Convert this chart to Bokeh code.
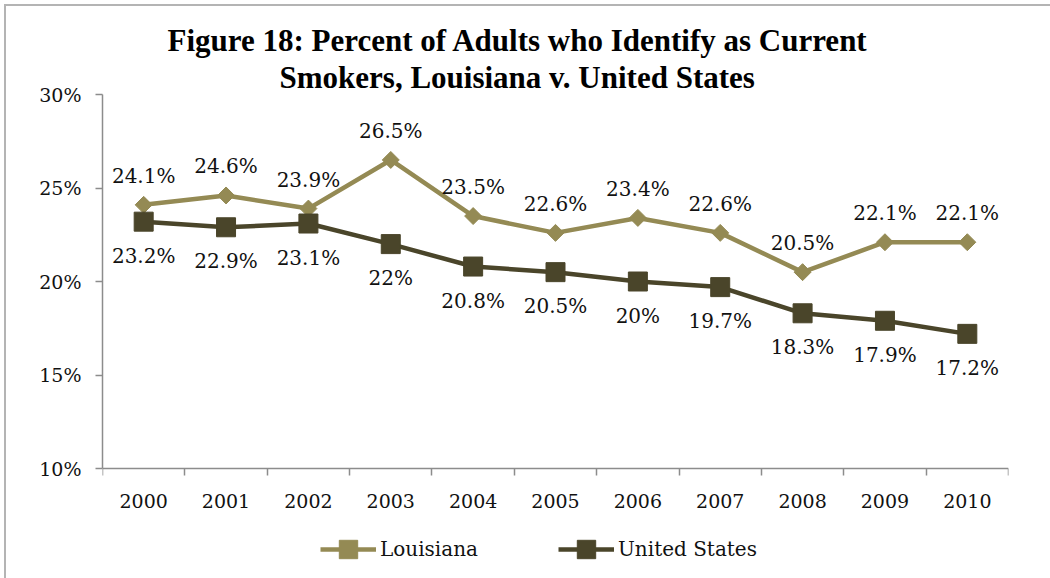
import math
from bokeh.plotting import figure
from bokeh.models import (ColumnDataSource, LabelSet, Title, FixedTicker, Legend, LegendItem,
                          Range1d, CustomJSTickFormatter)
from bokeh.core.properties import value
from bokeh.embed import file_html
from bokeh.resources import INLINE

years = [2000, 2001, 2002, 2003, 2004, 2005, 2006, 2007, 2008, 2009, 2010]
louisiana = [24.1, 24.6, 23.9, 26.5, 23.5, 22.6, 23.4, 22.6, 20.5, 22.1, 22.1]
united_states = [23.2, 22.9, 23.1, 22.0, 20.8, 20.5, 20.0, 19.7, 18.3, 17.9, 17.2]
y_ticks = [10, 15, 20, 25, 30]
title_lines = ["Figure 18: Percent of  Adults who Identify as Current",
               "Smokers, Louisiana v. United States"]

LA_COLOR = "#948A54"
US_COLOR = "#4A452A"
AXIS_COLOR = "#8C8C8C"
TITLE_FONT = "Liberation Serif"
FONT = "DejaVu Serif"
TXT = "#111111"

def fmt(v):
    return "{:g}%".format(v)

src_la = ColumnDataSource(dict(x=years, y=louisiana, t=[fmt(v) for v in louisiana]))
src_us = ColumnDataSource(dict(x=years, y=united_states, t=[fmt(v) for v in united_states]))

# plot frame runs down to the bottom of the window; the value axis spans 10%..30%
FW, AXIS_H, FH = 906, 374, 484
y_lo = y_ticks[0] - (FH - AXIS_H) * (y_ticks[-1] - y_ticks[0]) / AXIS_H

p = figure(output_backend="svg", toolbar_location=None,
           x_range=Range1d(years[0] - 0.5, years[-1] + 0.5),
           y_range=Range1d(y_lo, y_ticks[-1]),
           min_border_left=96, min_border_right=42, min_border_top=88, min_border_bottom=0,
           frame_width=FW, frame_height=FH)
p.margin = (4, 0, 0, 4)
p.styles = {"border-left": "2px solid #B4B4B4", "border-top": "2px solid #B4B4B4"}
p.title = None

p.outline_line_color = None
p.xgrid.visible = False
p.ygrid.visible = False
p.background_fill_color = "white"
p.border_fill_color = "white"

p.xaxis.fixed_location = y_ticks[0]
p.xaxis.ticker = FixedTicker(ticks=years, minor_ticks=[y - 0.5 for y in years] + [years[-1] + 0.5])
p.xaxis.major_tick_out = 0
p.xaxis.major_tick_in = 0
p.xaxis.minor_tick_out = 7
p.xaxis.minor_tick_in = 0
p.xaxis.minor_tick_line_color = AXIS_COLOR
p.xaxis.minor_tick_line_width = 1.5
p.xaxis.formatter = CustomJSTickFormatter(code="return String(tick);")
p.xaxis.major_label_standoff = 18

p.yaxis.bounds = (y_ticks[0], y_ticks[-1])
p.yaxis.ticker = FixedTicker(ticks=y_ticks, minor_ticks=[])
p.yaxis.formatter = CustomJSTickFormatter(code="return tick.toFixed(0) + '%';")
p.yaxis.major_tick_out = 7
p.yaxis.major_tick_in = 0
p.yaxis.major_label_standoff = 14

for ax in (p.xaxis, p.yaxis):
    ax.axis_line_color = AXIS_COLOR
    ax.axis_line_width = 1.5
    ax.major_tick_line_color = AXIS_COLOR
    ax.major_tick_line_width = 1.5
    ax.major_label_text_font = FONT
    ax.major_label_text_font_size = "19px"
    ax.major_label_text_color = TXT

l1 = p.line("x", "y", source=src_la, line_color=LA_COLOR, line_width=4.5)
m1 = p.scatter("x", "y", source=src_la, marker="square", angle=math.pi / 4, size=12,
               fill_color=LA_COLOR, line_color=LA_COLOR)
l2 = p.line("x", "y", source=src_us, line_color=US_COLOR, line_width=4.5)
m2 = p.scatter("x", "y", source=src_us, marker="square", size=19,
               fill_color=US_COLOR, line_color=US_COLOR)

lab_la = LabelSet(x="x", y="y", text="t", source=src_la, y_offset=29, text_align="center",
                  text_baseline="middle", text_font=value(FONT), text_font_size="20px",
                  text_color=TXT)
lab_us = LabelSet(x="x", y="y", text="t", source=src_us, y_offset=-34, text_align="center",
                  text_baseline="middle", text_font=value(FONT), text_font_size="20px",
                  text_color=TXT)
p.add_layout(lab_la)
p.add_layout(lab_us)

p.add_layout(Title(text=title_lines[1], align="left", offset=177, standoff=0,
                   text_font=TITLE_FONT, text_font_size="31px", text_font_style="bold",
                   text_color="#000000"), "above")
p.add_layout(Title(text=title_lines[0], align="left", offset=65, standoff=0,
                   text_font=TITLE_FONT, text_font_size="31px", text_font_style="bold",
                   text_color="#000000"), "above")

legend = Legend(items=[LegendItem(label="Louisiana", renderers=[l1, m1]),
                       LegendItem(label="United States", renderers=[l2, m2])],
                orientation="horizontal", location=(218, 6),
                label_text_font=FONT, label_text_font_size="20px", label_text_color=TXT,
                glyph_width=56, glyph_height=46, label_standoff=4, spacing=80,
                border_line_color=None, background_fill_alpha=0, margin=0, padding=4)
p.add_layout(legend, "center")

open("out.html", "w").write(file_html(p, INLINE))
